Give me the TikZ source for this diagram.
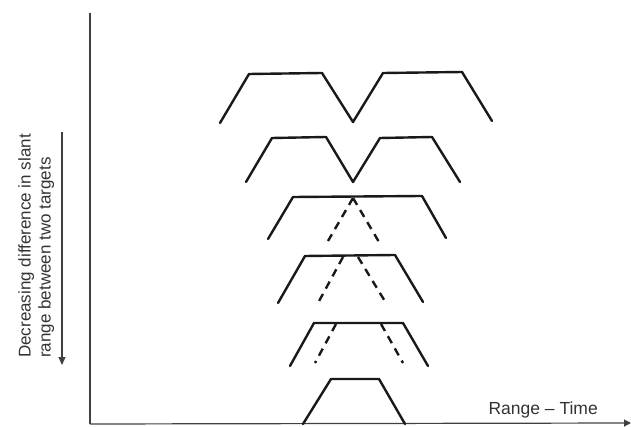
\documentclass[tikz,border=0pt]{standalone}
\usepackage{fontspec}
\setmainfont{Liberation Sans}
\usetikzlibrary{arrows.meta}
\begin{document}
\begin{tikzpicture}[x=1pt,y=-1pt,
  pulse/.style={line width=2.4pt,line join=round,line cap=round,black!90},
  hidden/.style={line width=2.4pt,dash pattern=on 8pt off 6pt,black!90},
  axis/.style={line width=1.2pt,black!75},
  lbl/.style={text=black!80,inner sep=0pt}]
\useasboundingbox (0,0) rectangle (631,427);
% axes
\coordinate (top) at (90,13);
\coordinate (origin) at (90,424);
\coordinate (xend) at (631,423);
\draw[axis] (top) -- (origin);
\draw[axis,-{Triangle[length=7pt,width=7pt]}] (origin) -- (xend);
\node[lbl,font=\fontsize{17.5}{20}\selectfont,anchor=south east] (xlabel) at (598,418) {Range -- Time};
% side arrow
\coordinate (sa) at (62,132);
\coordinate (sb) at (62,365);
\draw[line width=1.2pt,black!75,-{Triangle[length=8pt,width=7pt]}] (sa) -- (sb);
\node[lbl,font=\fontsize{17}{20}\selectfont,rotate=90,anchor=north west,align=left] (ylabel) at (18,358)
  {Decreasing difference in slant\\range between two targets};
% row 1
\draw[pulse] (220,123) -- (249,74) -- (322,73) -- (353,122) -- (383,73) -- (462,72) -- (492,121);
% row 2
\draw[pulse] (246,182) -- (272,138) -- (326,137) -- (353,182) -- (380,138) -- (432,137) -- (460,182);
% row 3
\draw[pulse] (268,239) -- (293,197) -- (422,196) -- (446,238);
\draw[hidden] (353,198) -- (328,241);
\draw[hidden] (353,198) -- (379,242);
% row 4
\draw[pulse] (278,303) -- (305,256) -- (395,255) -- (423,302);
\draw[hidden] (343,257) -- (318,303);
\draw[hidden] (358,257) -- (386,303);
% row 5
\draw[pulse] (290,366) -- (314,323) -- (403,323) -- (428,366);
\draw[hidden] (336,324) -- (315,363);
\draw[hidden] (381,324) -- (403,363);
% row 6
\draw[pulse] (303,424) -- (331,379) -- (379,379) -- (405,424);
\end{tikzpicture}
\end{document}
